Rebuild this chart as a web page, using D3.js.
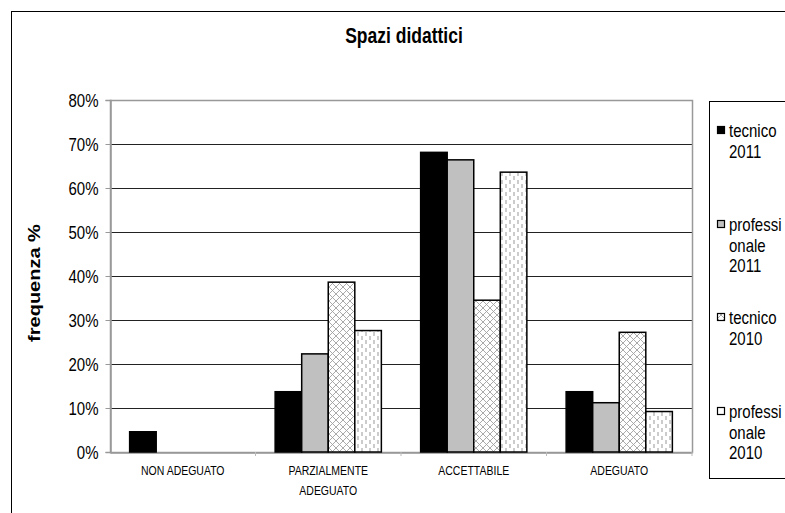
<!DOCTYPE html>
<html><head><meta charset="utf-8">
<script src="https://cdn.jsdelivr.net/npm/d3@7"></script>
<style>body{margin:0;background:#fff}svg{display:block;font-family:"Liberation Sans",Arial,sans-serif}</style>
</head><body>
<svg id="c" width="785" height="513"></svg>
<script>
const categories = ["NON ADEGUATO", "PARZIALMENTE ADEGUATO", "ACCETTABILE", "ADEGUATO"];
const categoryLines = [["NON ADEGUATO"], ["PARZIALMENTE", "ADEGUATO"], ["ACCETTABILE"], ["ADEGUATO"]];
const seriesNames = ["tecnico 2011", "professionale 2011", "tecnico 2010", "professionale 2010"];
const legendLines = [["tecnico", "2011"], ["professi", "onale", "2011"], ["tecnico", "2010"], ["professi", "onale", "2010"]];
const tecnico2011 = [4.6, 13.7, 68.1, 13.7];
const professionale2011 = [null, 22.3, 66.4, 11.2];
const tecnico2010 = [null, 38.6, 34.5, 27.2];
const professionale2010 = [null, 27.6, 63.6, 9.2];
const seriesValues = [tecnico2011, professionale2011, tecnico2010, professionale2010];
const yTicks = [0, 10, 20, 30, 40, 50, 60, 70, 80];

const SY = 1.25; // vertical text stretch seen in the reference
const svg = d3.select("#c");
const defs = svg.append("defs");
const cross = defs.append("pattern").attr("id","cross").attr("patternUnits","userSpaceOnUse").attr("width",7).attr("height",7);
cross.append("rect").attr("width",7).attr("height",7).attr("fill","#fff");
cross.append("path").attr("d","M0,0L7,7M7,0L0,7").attr("stroke","#a0a0a0").attr("stroke-width",0.9);
const dots = defs.append("pattern").attr("id","dots").attr("patternUnits","userSpaceOnUse").attr("width",8).attr("height",8);
dots.append("rect").attr("width",8).attr("height",8).attr("fill","#fff");
dots.append("line").attr("x1",2).attr("x2",2).attr("y1",0).attr("y2",4).attr("stroke","#999").attr("stroke-width",1);
dots.append("line").attr("x1",6).attr("x2",6).attr("y1",4).attr("y2",8).attr("stroke","#999").attr("stroke-width",1);
const fills = ["#000", "#c0c0c0", "url(#cross)", "url(#dots)"];

function txt(parent, x, y, s, size, anchor, bold) {
  return parent.append("text").attr("transform", `translate(${x},${y}) scale(1,${SY})`)
    .attr("text-anchor", anchor || "start").attr("font-size", size)
    .attr("font-weight", bold ? "bold" : "normal").text(s);
}

// outer frame
svg.append("rect").attr("x",11.5).attr("y",11.5).attr("width",900).attr("height",700).attr("fill","none").attr("stroke","#000");

const L = 110, R = 692, T = 100, B = 452;
const x = d3.scaleBand().domain(categories).range([L, R]);
const groupW = x.bandwidth() * 0.73;
const xs = d3.scaleBand().domain(seriesNames).range([0, groupW]);
const y = d3.scaleLinear().domain([0, 80]).range([B, T]);

// title
txt(svg, 404, 43, "Spazi didattici", 17.5, "middle", true);

// gridlines
svg.append("g").selectAll("line").data(yTicks.filter(d=>d>0 && d<80)).join("line")
  .attr("x1",L).attr("x2",R).attr("y1",d=>Math.round(y(d))+0.5).attr("y2",d=>Math.round(y(d))+0.5)
  .attr("stroke","#222").attr("stroke-width",1);
// plot border
svg.append("rect").attr("x",L+0.5).attr("y",T+0.5).attr("width",R-L).attr("height",B-T).attr("fill","none").attr("stroke","#999").attr("stroke-width",1.5);

// y axis
const yAxis = d3.axisLeft(y).tickValues(yTicks).tickFormat(d=>d+"%").tickSize(5).tickPadding(7);
const gy = svg.append("g").attr("transform",`translate(${L+0.5},0)`).call(yAxis);
gy.select(".domain").attr("stroke","#999").attr("stroke-width",1.5);
gy.selectAll(".tick line").attr("stroke","#999");
gy.selectAll(".tick text").attr("font-size",15).attr("fill","#000")
  .attr("font-family","'Liberation Sans',Arial,sans-serif")
  .attr("transform",`scale(1,${SY})`);

// x axis
const xAxis = d3.axisBottom(x).tickSize(0).tickFormat("");
const gx = svg.append("g").attr("transform",`translate(0,${B+0.5})`).call(xAxis);
gx.select(".domain").attr("stroke","#999").attr("stroke-width",1.5);
svg.append("g").selectAll("line").data(categories.slice(1).concat([null])).join("line")
  .attr("x1",d=> d===null ? R : x(d)).attr("x2",d=> d===null ? R : x(d))
  .attr("y1",B).attr("y2",B+4).attr("stroke","#bbb");
const gc = svg.append("g");
categories.forEach((c, ci) => {
  categoryLines[ci].forEach((line, li) => {
    txt(gc, x(c) + x.bandwidth()/2, 475 + li*20, line, 10.5, "middle", false);
  });
});

// y title
svg.append("text").attr("transform",`translate(40,283) scale(1,${SY}) rotate(-90)`).attr("text-anchor","middle")
  .attr("font-weight","bold").attr("font-size",16).text("frequenza %");

// bars
const off = (x.bandwidth()-groupW)/2;
seriesNames.forEach((s, si) => {
  const data = categories.map((c, ci) => ({c, v: seriesValues[si][ci]})).filter(d => d.v !== null);
  svg.append("g").selectAll("rect").data(data).join("rect")
    .attr("x", d => x(d.c) + off + xs(s))
    .attr("y", d => y(d.v))
    .attr("width", xs.bandwidth())
    .attr("height", d => B - y(d.v))
    .attr("fill", fills[si]).attr("stroke", "#000").attr("stroke-width", 1.5);
});

// legend
svg.append("rect").attr("x",709.5).attr("y",101.5).attr("width",100).attr("height",377).attr("fill","#fff").attr("stroke","#000");
const legY = [131, 225, 318, 412];
seriesNames.forEach((s, si) => {
  const g = svg.append("g");
  g.append("rect").attr("x",717.5).attr("y",legY[si]-4.5).attr("width",7).attr("height",7)
    .attr("fill", si===0 ? "#000" : si===1 ? "#c0c0c0" : si===2 ? "url(#cross)" : "#fff").attr("stroke","#000").attr("stroke-width",1.2);
  legendLines[si].forEach((line, li) => {
    txt(g, 729, legY[si] + 6 + li*20.5, line, 15, "start", false);
  });
});
</script>
</body></html>
